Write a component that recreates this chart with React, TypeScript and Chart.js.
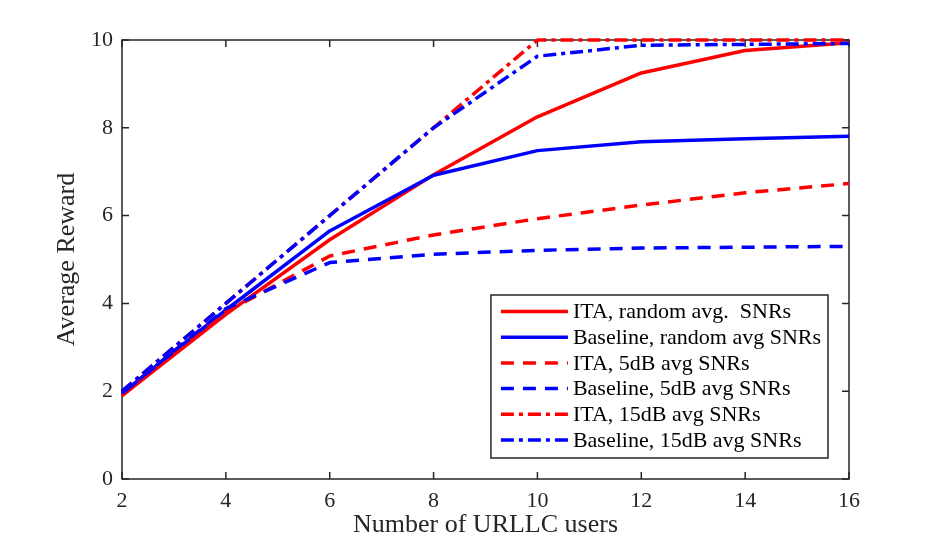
import React, { useEffect, useRef } from "react";
import { Chart, registerables } from "chart.js";

Chart.register(...registerables);

const users = [2, 4, 6, 8, 10, 12, 14, 16];
const itaRandom = [1.9, 3.75, 5.45, 6.93, 8.25, 9.25, 9.76, 9.94];
const baseRandom = [1.95, 3.85, 5.65, 6.92, 7.48, 7.68, 7.75, 7.81];
const ita5dB = [1.9, 3.8, 5.08, 5.56, 5.93, 6.24, 6.52, 6.73];
const base5dB = [1.95, 3.88, 4.93, 5.12, 5.21, 5.26, 5.28, 5.3];
const ita15dB = [2.0, 4.0, 6.0, 8.0, 10, 10, 10, 10];
const base15dB = [2.0, 4.0, 6.0, 8.0, 9.63, 9.88, 9.9, 9.92];

const seriesLabels = [
  "ITA, random avg.  SNRs",
  "Baseline, random avg SNRs",
  "ITA, 5dB avg SNRs",
  "Baseline, 5dB avg SNRs",
  "ITA, 15dB avg SNRs",
  "Baseline, 15dB avg SNRs",
];
const xTicks = [2, 4, 6, 8, 10, 12, 14, 16];
const yTicks = [0, 2, 4, 6, 8, 10];

const RED = "#ff0000";
const BLUE = "#0000ff";
const AXIS = "#262626";
const FONT = "'Liberation Serif', 'Times New Roman', serif";
const SOLID: number[] = [];
const DASH = [13, 9];
const DASHDOT = [13, 5, 4, 5];

const allSeries = [itaRandom, baseRandom, ita5dB, base5dB, ita15dB, base15dB];
const colors = [RED, BLUE, RED, BLUE, RED, BLUE];
const dashes = [SOLID, SOLID, DASH, DASH, DASHDOT, DASHDOT];

const axesBoxPlugin = {
  id: "axesBox",
  beforeDatasetsDraw(chart: any) {
    const { ctx, chartArea, scales } = chart;
    const { left, right, top, bottom } = chartArea;
    ctx.save();
    ctx.strokeStyle = AXIS;
    ctx.lineWidth = 1.5;
    ctx.setLineDash([]);
    ctx.strokeRect(left, top, right - left, bottom - top);
    const tl = 7;
    ctx.beginPath();
    for (const v of xTicks) {
      const px = scales.x.getPixelForValue(v);
      ctx.moveTo(px, bottom);
      ctx.lineTo(px, bottom - tl);
      ctx.moveTo(px, top);
      ctx.lineTo(px, top + tl);
    }
    for (const v of yTicks) {
      const py = scales.y.getPixelForValue(v);
      ctx.moveTo(left, py);
      ctx.lineTo(left + tl, py);
      ctx.moveTo(right, py);
      ctx.lineTo(right - tl, py);
    }
    ctx.stroke();
    ctx.restore();
  },
};

const legendPlugin = {
  id: "boxLegend",
  afterDraw(chart: any) {
    const { ctx, chartArea } = chart;
    const ds = chart.data.datasets;
    ctx.save();
    ctx.font = `22px ${FONT}`;
    let maxW = 0;
    for (const d of ds) maxW = Math.max(maxW, ctx.measureText(d.label).width);
    const padL = 10;
    const sampleW = 67;
    const gap = 5;
    const padR = 7;
    const rowH = 25.7;
    const padTop = 16.5;
    const padBot = 18;
    const w = padL + sampleW + gap + maxW + padR;
    const h = padTop + rowH * (ds.length - 1) + padBot;
    const x0 = chartArea.right - 21 - w;
    const y0 = chartArea.bottom - 21 - h;
    ctx.fillStyle = "#ffffff";
    ctx.fillRect(x0, y0, w, h);
    ctx.strokeStyle = AXIS;
    ctx.lineWidth = 1.5;
    ctx.setLineDash([]);
    ctx.strokeRect(x0, y0, w, h);
    ds.forEach((d: any, i: number) => {
      const cy = y0 + padTop + i * rowH;
      ctx.beginPath();
      ctx.strokeStyle = d.borderColor;
      ctx.lineWidth = d.borderWidth;
      ctx.lineCap = "butt";
      ctx.setLineDash(d.borderDash || []);
      ctx.moveTo(x0 + padL, cy);
      ctx.lineTo(x0 + padL + sampleW, cy);
      ctx.stroke();
      ctx.setLineDash([]);
      ctx.fillStyle = "#000000";
      ctx.textBaseline = "middle";
      ctx.textAlign = "left";
      ctx.fillText(d.label, x0 + padL + sampleW + gap, cy + 1);
    });
    ctx.restore();
  },
};

export default function App() {
  const ref = useRef<HTMLCanvasElement | null>(null);
  useEffect(() => {
    document.body.style.margin = "0";
    if (!ref.current) return;
    const datasets = allSeries.map((s, i) => ({
      label: seriesLabels[i],
      data: s.map((y, j) => ({ x: users[j], y })),
      borderColor: colors[i],
      backgroundColor: colors[i],
      borderWidth: 3.5,
      borderDash: dashes[i],
      borderCapStyle: "butt",
      borderJoinStyle: "round",
      pointRadius: 0,
      fill: false,
      tension: 0,
      clip: false,
      order: allSeries.length - i,
    }));
    const chart = new Chart(ref.current, {
      type: "line",
      data: { datasets } as any,
      options: {
        animation: false,
        responsive: false,
        events: [],
        layout: { padding: { left: 0, right: 89, top: 40, bottom: 0 } },
        plugins: {
          legend: { display: false },
          tooltip: { enabled: false },
        },
        scales: {
          x: {
            type: "linear",
            min: 2,
            max: 16,
            afterFit: (s: any) => {
              s.height = 69;
            },
            afterBuildTicks: (s: any) => {
              s.ticks = xTicks.map((v) => ({ value: v }));
            },
            grid: { display: false, drawTicks: false },
            border: { display: false },
            ticks: {
              padding: 9,
              color: AXIS,
              font: { family: FONT, size: 22 },
              maxRotation: 0,
            },
            title: {
              display: true,
              text: "Number of URLLC users",
              color: AXIS,
              font: { family: FONT, size: 26 },
              padding: { top: 0, bottom: 7 },
            },
          },
          y: {
            type: "linear",
            min: 0,
            max: 10,
            afterFit: (s: any) => {
              s.width = 122;
            },
            afterBuildTicks: (s: any) => {
              s.ticks = yTicks.map((v) => ({ value: v }));
            },
            grid: { display: false, drawTicks: false },
            border: { display: false },
            ticks: {
              padding: 9,
              color: AXIS,
              font: { family: FONT, size: 22 },
            },
            title: {
              display: true,
              text: "Average Reward",
              color: AXIS,
              font: { family: FONT, size: 26 },
              padding: { top: 52, bottom: 0 },
            },
          },
        },
      } as any,
      plugins: [axesBoxPlugin, legendPlugin],
    });
    return () => chart.destroy();
  }, []);
  return (
    <div style={{ position: "absolute", left: 0, top: 0, width: 938, height: 548, background: "#fff" }}>
      <canvas ref={ref} width={938} height={548} />
    </div>
  );
}
